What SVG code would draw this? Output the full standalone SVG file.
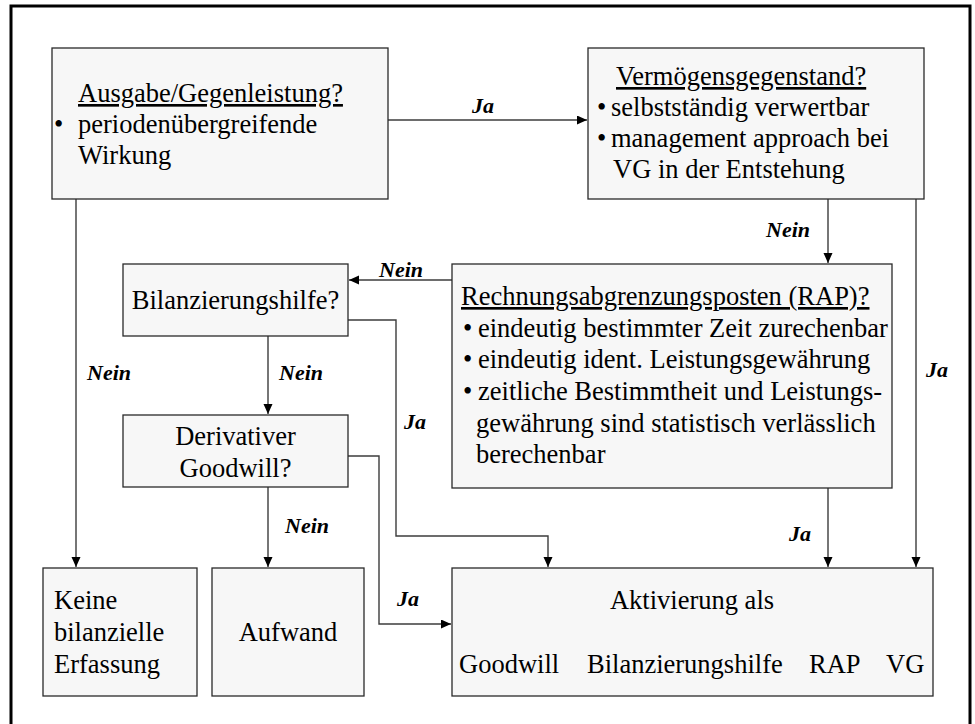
<svg xmlns="http://www.w3.org/2000/svg" width="975" height="724" viewBox="0 0 975 724" font-family="'Liberation Serif', 'Times New Roman', Times, serif">
<style>
.box{fill:#f7f7f7;stroke:#2a2a2a;stroke-width:1.3}
.t{font-size:26.5px;fill:#000}
.u{text-decoration:underline}
.lbl{font-size:22px;font-weight:bold;font-style:italic;fill:#000}
.c{fill:none;stroke:#3c3c3c;stroke-width:1.4}
</style>
<defs>
<marker id="ah" markerUnits="userSpaceOnUse" markerWidth="11" markerHeight="10" refX="10" refY="4.5" orient="auto">
<path d="M0,0 L10,4.5 L0,9 z" fill="#000"/>
</marker>
</defs>
<rect x="11" y="6" width="959" height="740" fill="#fff" stroke="#000" stroke-width="3"/>

<g id="connectors">
<path class="c" d="M388,120 H587" marker-end="url(#ah)"/>
<path class="c" d="M828,199 V263" marker-end="url(#ah)"/>
<path class="c" d="M916,199 V567" marker-end="url(#ah)"/>
<path class="c" d="M452,280 H349" marker-end="url(#ah)"/>
<path class="c" d="M828,488 V567" marker-end="url(#ah)"/>
<path class="c" d="M76,199 V567" marker-end="url(#ah)"/>
<path class="c" d="M268,336 V414" marker-end="url(#ah)"/>
<path class="c" d="M348,320 H396 V536 H548 V567" marker-end="url(#ah)"/>
<path class="c" d="M268,487 V567" marker-end="url(#ah)"/>
<path class="c" d="M348,456 H379 V624 H451" marker-end="url(#ah)"/>
<text class="lbl" x="472" y="113">Ja</text>
<text class="lbl" x="766" y="237">Nein</text>
<text class="lbl" x="926" y="377">Ja</text>
<text class="lbl" x="379" y="277">Nein</text>
<text class="lbl" x="87" y="380">Nein</text>
<text class="lbl" x="279" y="380">Nein</text>
<text class="lbl" x="404" y="429">Ja</text>
<text class="lbl" x="285" y="533">Nein</text>
<text class="lbl" x="789" y="541">Ja</text>
<text class="lbl" x="397" y="606">Ja</text>
</g>

<g id="ausgabe">
<rect class="box" x="52" y="48" width="336" height="151"/>
<text class="t u" x="78" y="102">Ausgabe/Gegenleistung?</text>
<text class="t" y="133"><tspan x="54">•</tspan><tspan x="78">periodenübergreifende</tspan></text>
<text class="t" x="78" y="164">Wirkung</text>
</g>

<g id="vermoegensgegenstand">
<rect class="box" x="588" y="48" width="336" height="151"/>
<text class="t u" x="616" y="85">Vermögensgegenstand?</text>
<text class="t" y="116"><tspan x="597">•</tspan><tspan x="611">selbstständig verwertbar</tspan></text>
<text class="t" y="147"><tspan x="597">•</tspan><tspan x="611">management approach bei</tspan></text>
<text class="t" x="613" y="178">VG in der Entstehung</text>
</g>

<g id="bilanzierungshilfe">
<rect class="box" x="123" y="264" width="225" height="72"/>
<text class="t" x="235.5" y="309" text-anchor="middle">Bilanzierungshilfe?</text>
</g>

<g id="rap">
<rect class="box" x="452" y="264" width="440" height="224"/>
<text class="t u" x="461" y="305">Rechnungsabgrenzungsposten (RAP)?</text>
<text class="t" y="337"><tspan x="463">•</tspan><tspan x="478">eindeutig bestimmter Zeit zurechenbar</tspan></text>
<text class="t" y="368"><tspan x="463">•</tspan><tspan x="478">eindeutig ident. Leistungsgewährung</tspan></text>
<text class="t" y="400"><tspan x="463">•</tspan><tspan x="478">zeitliche Bestimmtheit und Leistungs-</tspan></text>
<text class="t" x="476" y="432">gewährung sind statistisch verlässlich</text>
<text class="t" x="476" y="463">berechenbar</text>
</g>

<g id="goodwill">
<rect class="box" x="123" y="415" width="225" height="72"/>
<text class="t" x="235.5" y="445" text-anchor="middle">Derivativer</text>
<text class="t" x="235.5" y="477" text-anchor="middle">Goodwill?</text>
</g>

<g id="keine">
<rect class="box" x="43" y="568" width="154" height="128"/>
<text class="t" x="54" y="609">Keine</text>
<text class="t" x="54" y="641">bilanzielle</text>
<text class="t" x="54" y="673">Erfassung</text>
</g>

<g id="aufwand">
<rect class="box" x="212" y="568" width="152" height="128"/>
<text class="t" x="288" y="641" text-anchor="middle">Aufwand</text>
</g>

<g id="aktivierung">
<rect class="box" x="452" y="568" width="481" height="128"/>
<text class="t" x="692" y="609" text-anchor="middle">Aktivierung als</text>
<text class="t" x="459" y="673">Goodwill</text>
<text class="t" x="587" y="673">Bilanzierungshilfe</text>
<text class="t" x="809" y="673">RAP</text>
<text class="t" x="886" y="673">VG</text>
</g>
</svg>
